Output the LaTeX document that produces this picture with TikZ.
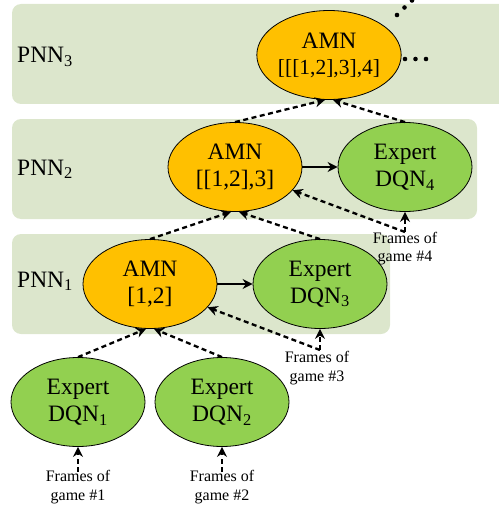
\documentclass[tikz,border=0pt]{standalone}
\usepackage{fontspec}
\setmainfont{Liberation Serif}
\usetikzlibrary{shapes.geometric,arrows.meta}

\definecolor{panelgreen}{HTML}{DCE6CC}
\definecolor{amnorange}{HTML}{FFC000}
\definecolor{dqngreen}{HTML}{92D050}

\tikzset{
  panel/.style={fill=panelgreen, draw=none, rounded corners=9pt},
  net/.style={ellipse, draw=black, line width=0.8pt, minimum width=134pt,
    minimum height=89pt, inner sep=0pt, align=center,
    font=\fontsize{23.5}{27}\selectfont},
  amn/.style={net, fill=amnorange},
  dqn/.style={net, fill=dqngreen},
  pnnlabel/.style={anchor=base west, inner sep=0pt, font=\fontsize{23.5}{27}\selectfont},
  frames/.style={align=center, inner sep=0pt, font=\fontsize{16}{18.5}\selectfont},
  feed/.style={line width=2.3pt, dash pattern=on 5pt off 3.5pt,
    -{Stealth[length=10pt,width=10pt]}},
  transfer/.style={line width=2.3pt, -{Stealth[length=10pt,width=10pt]}},
  dot/.style={fill=black, draw=none}
}

\begin{document}
\begin{tikzpicture}[x=1pt, y=-1pt]
  \useasboundingbox (0,0) rectangle (498,508);

  % background panels, one per progressive network
  \fill[panel] (12,4) rectangle (520,104);
  \fill[panel] (12,119) rectangle (477,219);
  \fill[panel] (12,234) rectangle (390,334);

  \node[pnnlabel] (pnn3) at (17,63) {PNN\textsubscript{3}};
  \node[pnnlabel] (pnn2) at (17,175) {PNN\textsubscript{2}};
  \node[pnnlabel] (pnn1) at (17,287) {PNN\textsubscript{1}};

  % networks
  \node[amn] (amn3) at (329,55) {AMN\\[-1pt]{\fontsize{21.5}{25}\selectfont[[[1,2],3],4]}};
  \node[amn] (amn2) at (235,167) {AMN\\{}[[1,2],3]};
  \node[dqn] (dqn4) at (405,167) {Expert\\DQN\textsubscript{4}};
  \node[amn] (amn1) at (150,284) {AMN\\{}[1,2]};
  \node[dqn] (dqn3) at (320,284) {Expert\\DQN\textsubscript{3}};
  \node[dqn] (dqn1) at (78,402) {Expert\\DQN\textsubscript{1}};
  \node[dqn] (dqn2) at (222,402) {Expert\\DQN\textsubscript{2}};

  % game frame inputs
  \coordinate (in1) at (78,472);
  \coordinate (in2) at (222,472);
  \coordinate (in3) at (320,350);
  \coordinate (in4) at (405,232);
  \node[frames] (f1) at (78,487) {Frames of\\game \#1};
  \node[frames] (f2) at (222,487) {Frames of\\game \#2};
  \node[frames] (f3) at (317,368) {Frames of\\game \#3};
  \node[frames] (f4) at (405,248.5) {Frames of\\game \#4};

  \draw[feed] (in1) -- (dqn1.south);
  \draw[feed] (in2) -- (dqn2.south);
  \draw[feed] (in3) -- (dqn3.south);
  \draw[feed] (in3) -- (amn1.-22);
  \draw[feed] (in4) -- (dqn4.south);
  \draw[feed] (in4) -- (amn2.-22);

  % distillation into the multitask networks
  \draw[feed] (dqn1.north) -- (amn1.-95);
  \draw[feed] (dqn2.north) -- (amn1.-85);
  \draw[feed] (amn1.north) -- (amn2.-95);
  \draw[feed] (dqn3.north) -- (amn2.-85);
  \draw[feed] (amn2.north) -- (amn3.-95);
  \draw[feed] (dqn4.north) -- (amn3.-85);

  % lateral transfer
  \draw[transfer] (amn1.east) -- (dqn3.west);
  \draw[transfer] (amn2.east) -- (dqn4.west);

  % continuation dots
  \foreach \px/\py in {405/59, 415.5/59, 426/59, 397/15, 404.5/7.5, 412/0.5}
    \fill[dot] (\px,\py) circle (2.3pt);
\end{tikzpicture}
\end{document}
